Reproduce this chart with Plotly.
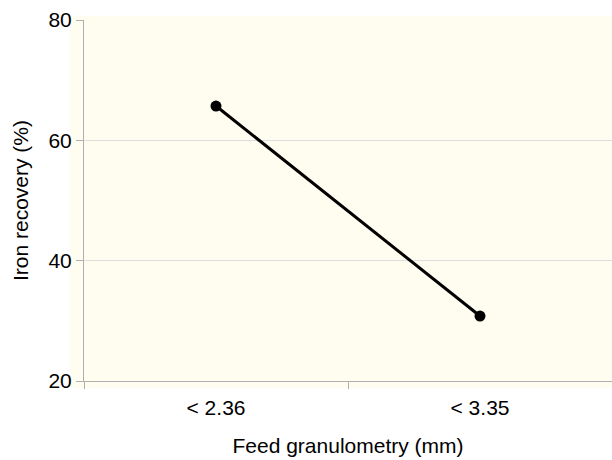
import plotly.graph_objects as go

categories = ["< 2.36", "< 3.35"]
recovery = [65.7, 30.8]
y_ticks = [20, 40, 60, 80]

BG = "rgb(254,253,240)"
FONT = "Liberation Sans, Arial, Helvetica, sans-serif"

fig = go.Figure()
fig.add_trace(go.Scatter(
    x=categories, y=recovery, mode="lines+markers",
    line=dict(color="black", width=3),
    marker=dict(color="black", size=11),
    showlegend=False,
))

# panel background extends a little beyond the axes, as in the reference
fig.add_shape(type="rect", xref="paper", yref="paper",
              x0=-14/528, x1=1, y0=-7/361, y1=1 + 4/361,
              fillcolor=BG, line_width=0, layer="below")

fig.update_layout(
    width=612, height=460,
    margin=dict(l=84, r=0, t=20, b=79),
    paper_bgcolor="white", plot_bgcolor=BG,
    font=dict(family=FONT, size=21, color="black"),
)
fig.update_xaxes(
    type="category", range=[-0.5, 1.5],
    tickson="boundaries", ticks="outside", ticklen=7, tickcolor="#b0b0b0",
    showline=True, linecolor="#b0b0b0", linewidth=1,
    showgrid=False, zeroline=False,
    tickfont=dict(size=21), ticklabelstandoff=8,
    title=dict(text="Feed granulometry (mm)", font=dict(size=21), standoff=20),
)
fig.update_yaxes(
    range=[20, 80], tickvals=y_ticks,
    ticks="outside", ticklen=7, tickcolor="#b0b0b0",
    showline=True, linecolor="#b0b0b0", linewidth=1,
    showgrid=True, gridcolor="#dedede", gridwidth=1, zeroline=False,
    tickfont=dict(size=21),
    title=dict(text="Iron recovery (%)", font=dict(size=21), standoff=14),
)

fig.write_html(
    "out.html",
    config={"displayModeBar": False},
    post_script="document.body.style.margin='0';document.body.style.overflow='hidden';",
)
